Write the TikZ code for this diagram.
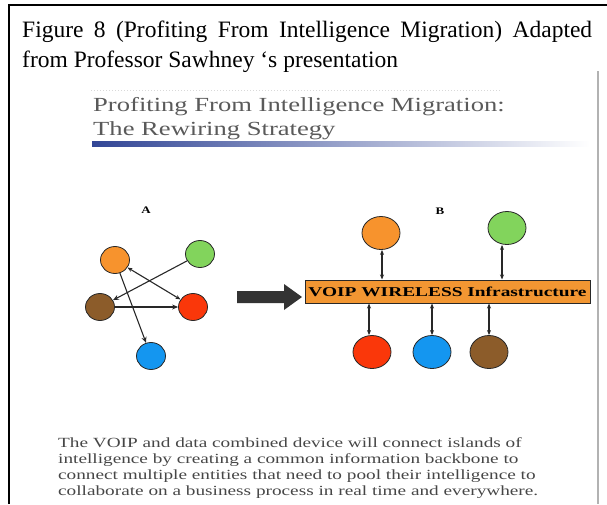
\documentclass[tikz,border=0pt]{standalone}
\usepackage{fontspec}
\setmainfont{Liberation Serif}
\usetikzlibrary{arrows.meta,shapes.geometric}
\definecolor{corange}{RGB}{247,147,45}
\definecolor{cgreen}{RGB}{130,212,92}
\definecolor{cbrown}{RGB}{140,92,42}
\definecolor{cred}{RGB}{250,55,10}
\definecolor{cblue}{RGB}{20,150,240}
\definecolor{cbar}{RGB}{242,150,50}
\definecolor{ctitle}{RGB}{90,90,90}
\definecolor{cbody}{RGB}{70,70,70}
\definecolor{cline}{RGB}{40,40,40}
\definecolor{cunder}{RGB}{50,70,150}
\begin{document}
\begin{tikzpicture}[x=1pt,y=-1pt,
  circA/.style={ellipse, draw=cline, line width=0.8pt, minimum width=29pt, minimum height=27pt, inner sep=0pt},
  circB/.style={circA, minimum width=38pt, minimum height=33pt},
  link/.style={draw=cline, line width=1.1pt, -{Stealth[length=6pt,width=5pt]}},
  blink/.style={draw=cline, line width=1.1pt, {Stealth[length=5pt,width=4pt]}-{Stealth[length=5pt,width=4pt]}},
  captxt/.style={anchor=base west, inner sep=0pt, font=\fontsize{23.5}{23.5}\selectfont},
  titletxt/.style={anchor=base west, inner sep=0pt, text=ctitle, font=\fontsize{20}{20}\selectfont},
  grp/.style={inner sep=0pt, font=\bfseries\fontsize{10}{10}\selectfont}
]
\useasboundingbox (0,0) rectangle (607,504);
% outer frame
\draw[line width=2pt] (9,504) -- (9,5) -- (607,5);
% caption
\node[captxt] (cap1) at (22,37) {\makebox[570pt][s]{Figure 8 (Profiting From Intelligence Migration) Adapted}};
\node[captxt] (cap2) at (22,67) {from Professor Sawhney ‘s presentation};
% slide border
\draw[gray!60, line width=1.5pt] (598,71) -- (598,504);
\draw[black!15, dotted, line width=1pt] (91,90) -- (500,90);
% slide title
\node[titletxt] (t1) at (93,111) {\scalebox{1.33}[1]{Profiting From Intelligence Migration:}};
\node[titletxt] (t2) at (93,135) {\scalebox{1.33}[1]{The Rewiring Strategy}};
\shade[left color=cunder, middle color=cunder!45, right color=white] (92,141) rectangle (590,146);
% labels
\node[grp] (la) at (146,210) {\scalebox{1.3}[1]{A}};
\node[grp] (lb) at (440,211) {\scalebox{1.3}[1]{B}};
% group A
\node[circA, fill=corange] (ao) at (115,260) {};
\node[circA, fill=cgreen] (ag) at (200,254) {};
\node[circA, fill=cbrown] (ab) at (100,307) {};
\node[circA, fill=cred] (ar) at (193,307) {};
\node[circA, fill=cblue] (abl) at (151,356) {};
\draw[link] (ag) -- (ab);
\draw[blink] (ao) -- (ar);
\draw[link] (ab) -- (ar);
\draw[link] (ao) -- (abl);
% big arrow
\fill[black!80] (237,291) -- (284,291) -- (284,284) -- (302,297) -- (284,310) -- (284,303) -- (237,303) -- cycle;
% group B
\node[draw=cline, line width=1pt, fill=cbar, minimum width=285pt, minimum height=23pt, inner sep=0pt,
  font=\bfseries\fontsize{13.5}{13.5}\selectfont] (bar) at (447.5,291.5) {\resizebox{278pt}{\height}{VOIP WIRELESS Infrastructure}};
\node[circB, fill=corange] (bo) at (381,233) {};
\node[circB, fill=cgreen] (bg) at (507,228) {};
\node[circB, fill=cred] (br) at (372,352) {};
\node[circB, fill=cblue] (bbl) at (432,352) {};
\node[circB, fill=cbrown] (bb) at (489,352) {};
\draw[blink] (bo.south -| 382,0) -- (bar.north -| 382,0);
\draw[blink] (bg.south -| 502,0) -- (bar.north -| 502,0);
\draw[blink] (bar.south -| 369,0) -- (br.north -| 369,0);
\draw[blink] (bar.south -| 432,0) -- (bbl.north -| 432,0);
\draw[blink] (bar.south -| 489,0) -- (bb.north -| 489,0);
% body text
\node[anchor=north west, inner sep=0pt, text=cbody,
  font=\fontsize{14}{16}\selectfont] (body) at (58,436) {\scalebox{1.375}[1]{\begin{tabular}{@{}l@{}}The VOIP and data combined device will connect islands of\\
intelligence by creating a common information backbone to\\
connect multiple entities that need to pool their intelligence to\\
collaborate on a business process in real time and everywhere.\end{tabular}}};
\end{tikzpicture}
\end{document}
